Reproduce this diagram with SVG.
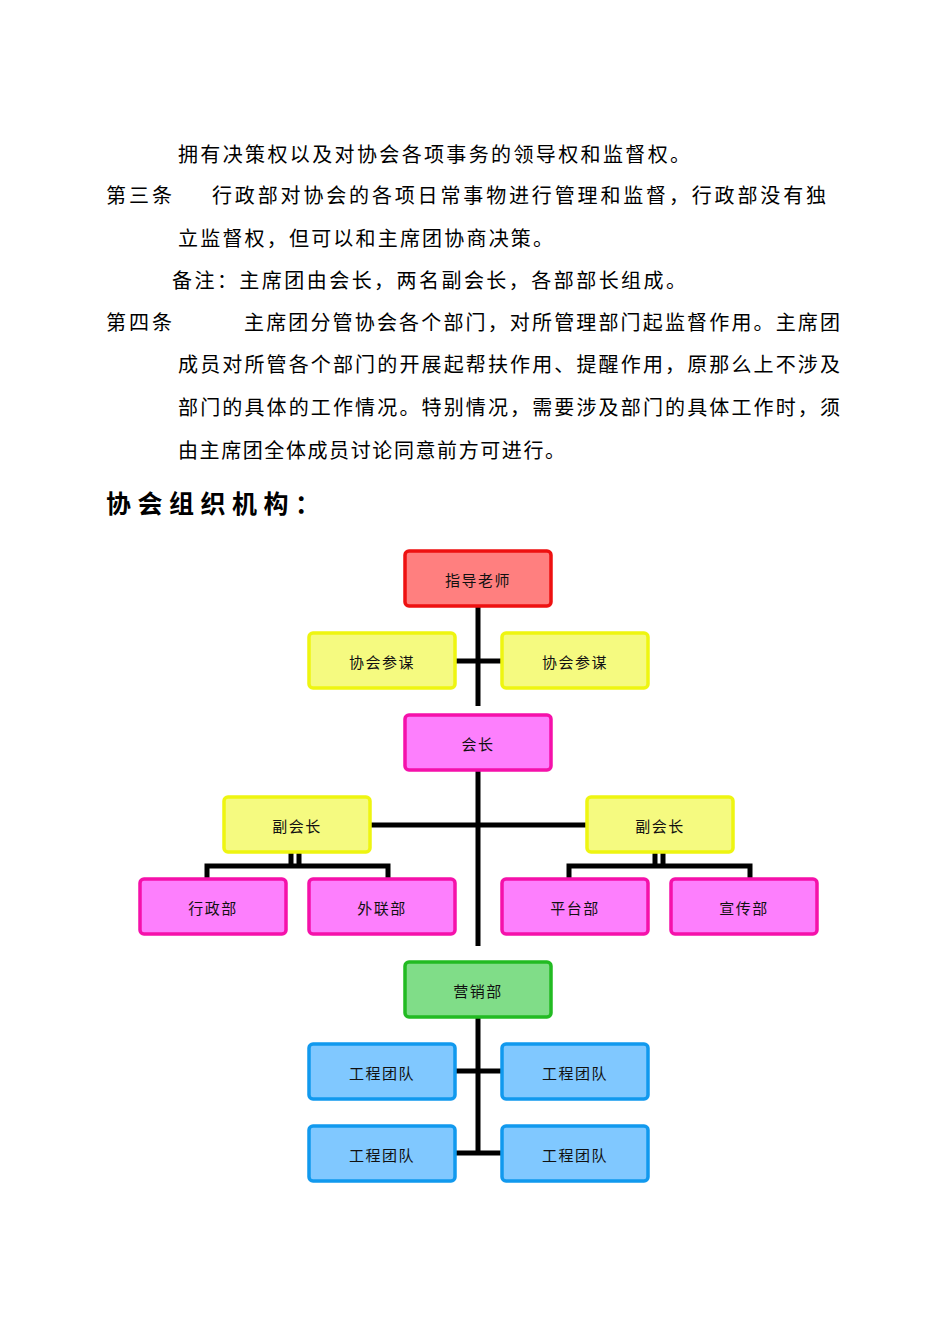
<svg xmlns="http://www.w3.org/2000/svg" width="950" height="1342" viewBox="0 0 950 1342">
<style>
.t{font-family:"Liberation Serif","Noto Sans CJK SC",serif;font-size:20px;fill:#000}
.h{font-family:"Noto Sans CJK SC",sans-serif;font-size:25px;font-weight:bold;fill:#000}
.n{stroke-width:3.5}
.l{font-family:"Noto Sans CJK SC",sans-serif;font-size:15px;fill:#111;text-anchor:middle;dominant-baseline:central;letter-spacing:1.5px}
.red{fill:#ff7f7f;stroke:#ee1111}.yel{fill:#f5fa80;stroke:#eef511}.pink{fill:#fd7ffd;stroke:#f511aa}.grn{fill:#80dd88;stroke:#22bb22}.blu{fill:#80c8ff;stroke:#1199ee}
.c{stroke:#000;stroke-width:5;fill:none}
</style>
<rect width="950" height="1342" fill="#fff"/>
<text class="t" x="178" y="162" textLength="512" lengthAdjust="spacing">拥有决策权以及对协会各项事务的领导权和监督权。</text>
<text class="t" x="106" y="203" textLength="66" lengthAdjust="spacing">第三条</text>
<text class="t" x="212" y="203" textLength="614" lengthAdjust="spacing">行政部对协会的各项日常事物进行管理和监督，行政部没有独</text>
<text class="t" x="178" y="246" textLength="375" lengthAdjust="spacing">立监督权，但可以和主席团协商决策。</text>
<text class="t" x="172" y="288" textLength="514" lengthAdjust="spacing">备注：主席团由会长，两名副会长，各部部长组成。</text>
<text class="t" x="106" y="330" textLength="66" lengthAdjust="spacing">第四条</text>
<text class="t" x="244" y="330" textLength="596" lengthAdjust="spacing">主席团分管协会各个部门，对所管理部门起监督作用。主席团</text>
<text class="t" x="178" y="372" textLength="662" lengthAdjust="spacing">成员对所管各个部门的开展起帮扶作用、提醒作用，原那么上不涉及</text>
<text class="t" x="178" y="415" textLength="662" lengthAdjust="spacing">部门的具体的工作情况。特别情况，需要涉及部门的具体工作时，须</text>
<text class="t" x="178" y="458" textLength="387" lengthAdjust="spacing">由主席团全体成员讨论同意前方可进行。</text>
<text class="h" x="106" y="513" textLength="214" lengthAdjust="spacing">协会组织机构：</text>
<g id="connectors">
<path class="c" d="M478 606V706M455 661H502M478 770V946M370 825H587M291 852V866M299 852V866M207 879V866H388V879M655 852V866M663 852V866M569 879V866H750V879M478 1017V1153M455 1071H502M455 1153H502"/>
</g>
<g id="n1"><rect class="n red" x="405" y="551" width="146" height="55" rx="4"/><text class="l" x="478" y="579">指导老师</text></g>
<g id="n2"><rect class="n yel" x="309" y="633" width="146" height="55" rx="4"/><text class="l" x="382" y="661">协会参谋</text></g>
<g id="n3"><rect class="n yel" x="502" y="633" width="146" height="55" rx="4"/><text class="l" x="575" y="661">协会参谋</text></g>
<g id="n4"><rect class="n pink" x="405" y="715" width="146" height="55" rx="4"/><text class="l" x="478" y="743">会长</text></g>
<g id="n5"><rect class="n yel" x="224" y="797" width="146" height="55" rx="4"/><text class="l" x="297" y="825">副会长</text></g>
<g id="n6"><rect class="n yel" x="587" y="797" width="146" height="55" rx="4"/><text class="l" x="660" y="825">副会长</text></g>
<g id="n7"><rect class="n pink" x="140" y="879" width="146" height="55" rx="4"/><text class="l" x="213" y="907">行政部</text></g>
<g id="n8"><rect class="n pink" x="309" y="879" width="146" height="55" rx="4"/><text class="l" x="382" y="907">外联部</text></g>
<g id="n9"><rect class="n pink" x="502" y="879" width="146" height="55" rx="4"/><text class="l" x="575" y="907">平台部</text></g>
<g id="n10"><rect class="n pink" x="671" y="879" width="146" height="55" rx="4"/><text class="l" x="744" y="907">宣传部</text></g>
<g id="n11"><rect class="n grn" x="405" y="962" width="146" height="55" rx="4"/><text class="l" x="478" y="990">营销部</text></g>
<g id="n12"><rect class="n blu" x="309" y="1044" width="146" height="55" rx="4"/><text class="l" x="382" y="1072">工程团队</text></g>
<g id="n13"><rect class="n blu" x="502" y="1044" width="146" height="55" rx="4"/><text class="l" x="575" y="1072">工程团队</text></g>
<g id="n14"><rect class="n blu" x="309" y="1126" width="146" height="55" rx="4"/><text class="l" x="382" y="1154">工程团队</text></g>
<g id="n15"><rect class="n blu" x="502" y="1126" width="146" height="55" rx="4"/><text class="l" x="575" y="1154">工程团队</text></g>
</svg>
